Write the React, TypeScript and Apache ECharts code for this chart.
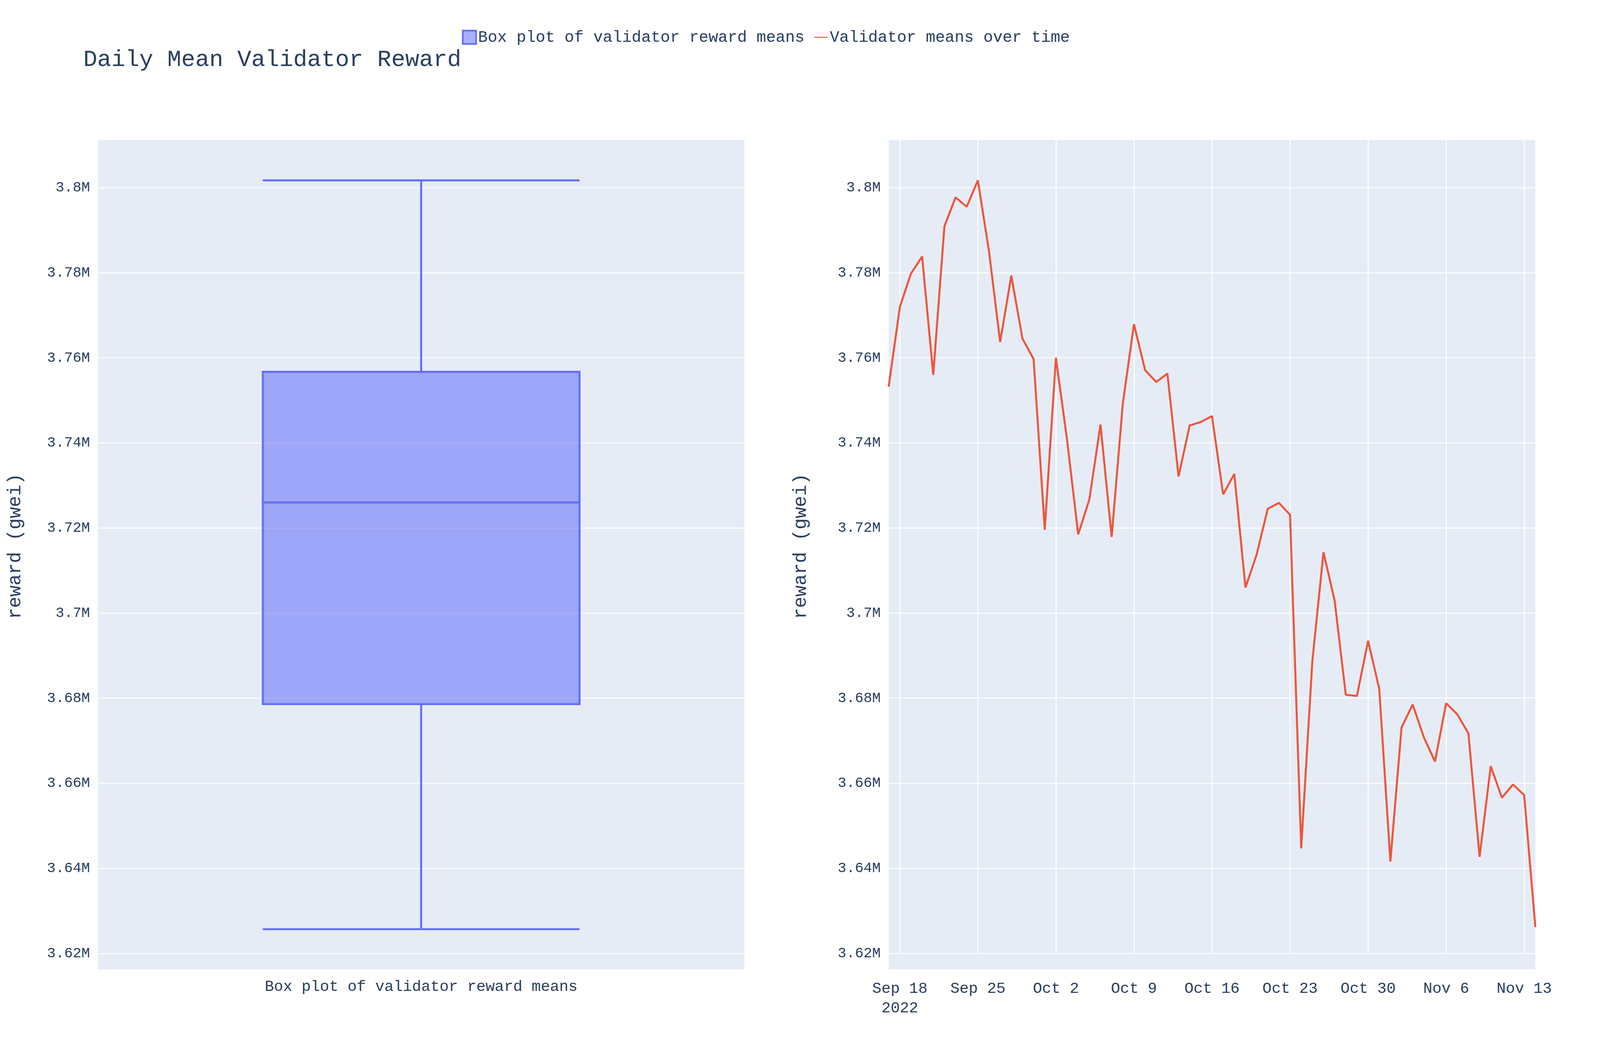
import React, { useEffect, useRef } from 'react'
import * as echarts from 'echarts'

// daily mean reward (gwei), Sep 17 .. Nov 14 2022
const dates: string[] = []
const start = Date.UTC(2022, 8, 17)
for (let i = 0; i < 59; i++) dates.push(new Date(start + i * 86400000).toISOString().slice(0, 10))

const means: number[] = [
  3753200, 3771900, 3779800, 3783800, 3756000, 3790900, 3797700, 3795500, 3801700, 3785000,
  3763700, 3779300, 3764500, 3759700, 3719600, 3760000, 3740700, 3718500, 3726700, 3744300,
  3717900, 3749200, 3767900, 3757100, 3754300, 3756300, 3732100, 3744100, 3744900, 3746300,
  3727900, 3732700, 3706000, 3713700, 3724500, 3725900, 3723100, 3644700, 3688700, 3714300,
  3702900, 3680800, 3680500, 3693500, 3682200, 3641600, 3673100, 3678500, 3670800, 3665100,
  3678800, 3676200, 3671700, 3642700, 3664000, 3656600, 3659700, 3657200, 3626200,
]

// min, q1, median, q3, max
const boxStats: number[] = [3625700, 3678600, 3726000, 3756700, 3801700]
const boxName = 'Box plot of validator reward means'
const lineName = 'Validator means over time'
const MON = ['Jan', 'Feb', 'Mar', 'Apr', 'May', 'Jun', 'Jul', 'Aug', 'Sep', 'Oct', 'Nov', 'Dec']

const font = 'Liberation Mono'
const ink = '#2a3f5f'
const bg = '#E5ECF6'

const App = () => {
  const chartRef: any = useRef()

  useEffect(() => {
    document.body.style.margin = '0'
    document.body.style.overflow = 'hidden'
    const el = chartRef.current
    const k = el.clientWidth / 4800
    const kh = el.clientHeight / 2700
    const px = (v: number) => v * k
    const py = (v: number) => v * kh
    const chart = echarts.init(el, null, { renderer: 'svg' })
    const yAxisBase = (gridIndex: number, gap: number) => ({
      type: 'value', gridIndex, min: 3620000, max: 3811400, interval: 20000,
      name: 'reward (gwei)', nameLocation: 'middle', nameGap: px(gap), nameRotate: 90,
      nameTextStyle: { fontFamily: font, fontSize: px(56), color: ink },
      axisLine: { show: false }, axisTick: { show: false },
      axisLabel: {
        fontFamily: font, fontSize: px(43), color: ink, margin: px(24), showMaxLabel: false,
        formatter: (v: number) => (v / 1e6).toString() + 'M',
      },
      splitLine: { lineStyle: { color: '#fff', width: px(3) } },
    })
    const tickShow = (i: number) => (i - 1) % 7 === 0
    chart.setOption({
      animation: false,
      title: {
        text: 'Daily Mean Validator Reward', left: px(244), top: py(118),
        textStyle: { fontFamily: font, fontSize: px(70), fontWeight: 'normal', color: ink },
      },
      legend: {
        top: py(70), left: px(1380), itemWidth: px(40), itemHeight: px(40), itemGap: px(30),
        textStyle: { fontFamily: font, fontSize: px(48), color: ink },
        data: [
          { name: boxName, icon: 'rect', itemStyle: { color: 'rgba(99,110,250,0.55)', borderColor: '#636efa', borderWidth: px(5) } },
          { name: lineName, icon: 'path://M0 0 H30 V2.4 H0 Z' },
        ],
      },
      graphic: [
        { type: 'rect', left: px(294), top: py(2438), shape: { width: px(1939), height: py(43) }, style: { fill: bg }, z: -10 },
        { type: 'rect', left: px(2666), top: py(2438), shape: { width: px(1940), height: py(43) }, style: { fill: bg }, z: -10 },
      ],
      grid: [
        { left: px(294), width: px(1939), top: py(356), height: py(2084), show: true, backgroundColor: bg, borderWidth: 0 },
        { left: px(2666), width: px(1940), top: py(356), height: py(2084), show: true, backgroundColor: bg, borderWidth: 0 },
      ],
      xAxis: [
        {
          type: 'category', gridIndex: 0, data: [boxName],
          axisLine: { show: false }, axisTick: { show: false },
          axisLabel: { fontFamily: font, fontSize: px(46), color: ink, margin: py(66) },
        },
        {
          type: 'category', gridIndex: 1, data: dates, boundaryGap: false,
          axisLine: { show: false }, axisTick: { show: false },
          axisLabel: {
            fontFamily: font, fontSize: px(46), color: ink, margin: py(66), interval: (i: number) => tickShow(i), lineHeight: px(58),
            formatter: (v: string, i: number) => {
              const d = new Date(v + 'T00:00:00Z')
              const s = MON[d.getUTCMonth()] + ' ' + d.getUTCDate()
              return i === 1 ? s + '\n2022' : s
            },
          },
          splitLine: { show: true, interval: (i: number) => tickShow(i), lineStyle: { color: '#fff', width: px(3) } },
        },
      ],
      yAxis: [yAxisBase(0, 220), yAxisBase(1, 235)],
      series: [
        {
          name: boxName, type: 'boxplot', xAxisIndex: 0, yAxisIndex: 0,
          data: [boxStats], boxWidth: ['49%', '49%'],
          itemStyle: { color: 'rgba(99,110,250,0.55)', borderColor: '#636efa', borderWidth: px(6) },
        },
        {
          name: lineName, type: 'line', xAxisIndex: 1, yAxisIndex: 1, data: means,
          showSymbol: false, lineStyle: { color: '#EF553B', width: px(6) }, itemStyle: { color: '#EF553B' },
        },
      ],
    })
    return () => {
      chart.dispose()
    }
  }, [])

  return <div style={{ width: '100vw', height: '100vh', background: '#fff' }} ref={chartRef}></div>
}
export default App
